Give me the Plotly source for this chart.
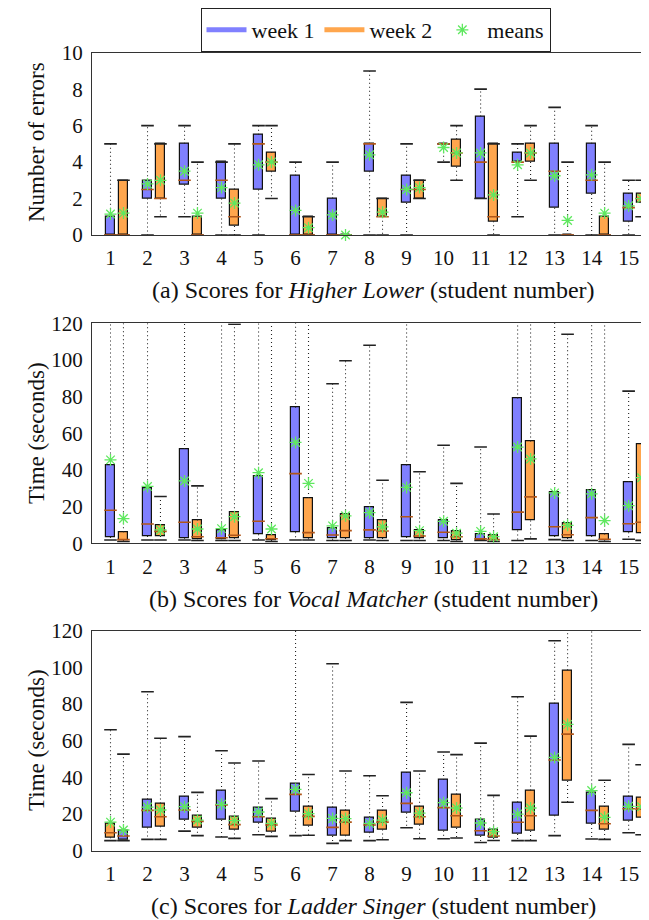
import plotly.graph_objects as go

# ---------------- DATA ----------------
students = list(range(1, 16))
tick_labels = [str(s) for s in students]

# Panel (a) Higher Lower: number of errors   (min, q1, median, q3, max, mean)
a1_min = [0, 0, 1, 0, 0, 0, 0, 0, 0, 4, 2, 1, 0, 0, 0]
a1_q1 = [0, 2, 2.75, 2, 2.5, 0, 0, 3.5, 1.75, 5, 2, 4, 1.5, 2.25, 0.75]
a1_med = [0, 2.5, 3, 3, 5, 0, 0, 5, 2.5, 5, 4, 4, 3.5, 3, 1.5]
a1_q3 = [1, 3, 5, 4, 5.5, 3.25, 2, 5, 3.25, 5, 6.5, 4.5, 5, 5, 2.25]
a1_max = [5, 6, 6, 4, 6, 4, 4, 9, 5, 5, 8, 5, 7, 6, 3]
a1_mean = [1.15, 2.8, 3.5, 2.6, 3.85, 1.35, 1.1, 4.4, 2.5, 4.8, 4.5, 3.85, 3.25, 3.3, 1.6]

a2_min = [0, 1, 0, 0, 2, 0, 0, 0, 2, 3, 0, 3, 0, 0, 1]
a2_q1 = [0, 2, 0, 0.5, 3.5, 0, 0, 1, 2, 3.75, 0.75, 4, 0, 0, 1.75]
a2_med = [0, 2, 0, 1, 4, 0, 0, 1, 2.5, 4.5, 1, 4.5, 0, 0, 2]
a2_q3 = [3, 5, 1, 2.5, 4.5, 1, 0, 2, 3, 5.25, 5, 5, 0, 1, 2.25]
a2_max = [3, 5, 4, 5, 6, 1, 0, 2, 3, 6, 5, 6, 4, 4, 3]
a2_mean = [1.2, 3.0, 1.2, 1.75, 4.0, 0.4, 0, 1.25, 2.6, 4.5, 2.2, 4.5, 0.8, 1.2, 2.0]

# Panel (b) Vocal Matcher: time (seconds)
b1_min = [1.8, 1.8, 1.8, 1.5, 1.8, 1.8, 1.5, 1.8, 1.5, 1.5, 1.5, 1.5, 2, 1.5, 2.2]
b1_q1 = [3.5, 4, 3, 2, 5, 6, 2.5, 3, 3.5, 2.5, 1.8, 7, 4, 4, 6]
b1_med = [18, 10.5, 11.5, 3, 12, 38, 4.5, 7.3, 14.5, 6, 2.4, 17, 9, 14, 10.7]
b1_q3 = [42.5, 30, 51.5, 7, 36.5, 74, 8, 19.5, 42.5, 12.5, 5, 79, 28, 29, 33.5]
b1_max = [150, 150, 150, 150, 150, 150, 87, 108, 150, 53.5, 52.5, 150, 150, 150, 83]
b1_mean = [45.5, 31, 34, 8, 38.5, 55, 9.5, 16.7, 30.5, 12, 6.5, 52.5, 27.5, 27, 20.5]

b2_min = [1, 1.8, 1.5, 1.5, 1, 1.8, 1.5, 1.5, 1.5, 1, 1, 2.4, 1.5, 1, 1.6]
b2_q1 = [1.8, 4, 2, 3, 1.8, 2.7, 2.9, 2.9, 2.7, 1.5, 1.8, 12.5, 2.9, 1.6, 5.6]
b2_med = [2, 6.5, 3.6, 4.4, 2.5, 5.8, 6.9, 6.7, 4, 3.6, 2, 25.3, 4.7, 2.2, 11.5]
b2_q3 = [6, 10, 12.4, 17, 4.5, 24.7, 15.8, 12.4, 7, 6.7, 4.4, 55.5, 11, 4.8, 54]
b2_max = [150, 25.5, 31.3, 119.5, 150, 150, 99.6, 34.4, 39, 32.7, 16, 150, 114, 150, 150]
b2_mean = [13.5, 7.3, 7.8, 14.5, 7.8, 32.7, 15, 9, 6.9, 5.5, 3.6, 46, 9.8, 12.4, 35.8]

# Panel (c) Ladder Singer: time (seconds)
c1_min = [5.5, 6.2, 10.7, 7.5, 8.7, 8.2, 4, 5.5, 12.5, 6.5, 4.5, 5.5, 8.2, 6.4, 9.8]
c1_q1 = [7.3, 12.7, 16.7, 16.7, 15.3, 21.3, 8, 10, 20.7, 10.9, 8, 9.1, 19.3, 14.6, 16.4]
c1_med = [9.8, 22, 22.2, 25, 18.5, 30.7, 12.7, 14, 25.8, 23.5, 10.9, 15.5, 49.5, 22, 22.9]
c1_q3 = [15, 28, 29.3, 32.5, 23.6, 36.4, 23.5, 18.2, 42.4, 38.5, 17.1, 26.4, 80.2, 31.7, 29.6]
c1_max = [66, 86.7, 62.2, 54.5, 48.9, 150, 102, 40.9, 80.9, 53.8, 58.7, 84, 114.5, 150, 58]
c1_mean = [15.6, 23.8, 24, 25.3, 21.1, 33.5, 17.6, 14.9, 31.6, 26.2, 15.1, 20, 50.9, 32.8, 24.2]

c2_min = [5.5, 6.2, 8.2, 6.7, 7.8, 8.4, 5.5, 6, 6.5, 6.9, 5.6, 5.5, 26.4, 6.2, 8.7]
c2_q1 = [5.8, 13.3, 12.5, 11.6, 10.4, 13.6, 8.4, 11.6, 14.2, 12.4, 6.9, 10.7, 38, 11.3, 18.2]
c2_med = [8, 18.5, 16, 14.2, 14, 18.7, 15.6, 15.6, 18.5, 19.1, 8, 19.1, 63.6, 14.7, 22.7]
c2_q3 = [11.1, 25.8, 19.1, 18.5, 17.6, 24.2, 22, 21.6, 24, 30.7, 11.5, 32.9, 98.4, 23.8, 28.9]
c2_max = [52.7, 61.3, 31.8, 47.8, 28.4, 41.6, 43.5, 30, 43.5, 52.4, 30.2, 62.5, 150, 38.4, 46.9]
c2_mean = [11.3, 22.2, 16.7, 16.4, 14.9, 20.2, 17.5, 16.7, 20.5, 23.3, 10.4, 23.3, 68.9, 18.2, 24]

# ---------------- STYLE ----------------
FONT = "Liberation Serif"
BLUE = "#8080ff"
ORANGE = "#ffa64d"
MEDIAN = "#b0561a"
MEANC = "#5fe85f"
OFFSET = 0.35       # week 2 box offset from the student position
BOXW = 0.25
C_SWAPPED = [1]     # in panel (c) student 1's boxes appear with swapped colours

fig = go.Figure()


def add_boxes(xa, ya, pos, mn, q1, med, q3, mx, mean, colors):
    fig.add_trace(go.Bar(
        x=pos, y=[b - a for a, b in zip(q1, q3)], base=q1, width=BOXW,
        marker=dict(color=colors, line=dict(color="#111", width=1.2)),
        xaxis=xa, yaxis=ya, showlegend=False, hoverinfo="skip"))
    wx, wy = [], []
    for p, a, lo, b, hi in zip(pos, q1, mn, q3, mx):
        wx += [p, p, None, p, p, None]
        wy += [b, hi, None, a, lo, None]
    fig.add_trace(go.Scatter(
        x=wx, y=wy, mode="lines", line=dict(color="#222", width=1.1, dash="1px,3px"),
        xaxis=xa, yaxis=ya, showlegend=False, hoverinfo="skip"))
    fig.add_trace(go.Scatter(
        x=pos + pos, y=list(mn) + list(mx), mode="markers",
        marker=dict(symbol="line-ew", size=9, color="#222", line=dict(color="#222", width=1.6)),
        xaxis=xa, yaxis=ya, showlegend=False, hoverinfo="skip"))
    fig.add_trace(go.Scatter(
        x=pos, y=med, mode="markers",
        marker=dict(symbol="line-ew", size=9, color=MEDIAN, line=dict(color=MEDIAN, width=1.6)),
        xaxis=xa, yaxis=ya, showlegend=False, hoverinfo="skip"))
    fig.add_trace(go.Scatter(
        x=pos, y=mean, mode="markers", cliponaxis=False,
        marker=dict(symbol="asterisk-open", size=10, color=MEANC,
                    line=dict(color=MEANC, width=1.3)),
        xaxis=xa, yaxis=ya, showlegend=False, hoverinfo="skip"))


pos1 = students
pos2 = [s + OFFSET for s in students]

panels = [
    ("x", "y", (a1_min, a1_q1, a1_med, a1_q3, a1_max, a1_mean),
     (a2_min, a2_q1, a2_med, a2_q3, a2_max, a2_mean), []),
    ("x2", "y2", (b1_min, b1_q1, b1_med, b1_q3, b1_max, b1_mean),
     (b2_min, b2_q1, b2_med, b2_q3, b2_max, b2_mean), []),
    ("x3", "y3", (c1_min, c1_q1, c1_med, c1_q3, c1_max, c1_mean),
     (c2_min, c2_q1, c2_med, c2_q3, c2_max, c2_mean), C_SWAPPED),
]
for xa, ya, w1, w2, swapped in panels:
    col1 = [ORANGE if s in swapped else BLUE for s in students]
    col2 = [BLUE if s in swapped else ORANGE for s in students]
    add_boxes(xa, ya, pos1, *w1, col1)
    add_boxes(xa, ya, pos2, *w2, col2)

# legend entries
fig.add_trace(go.Scatter(x=[None], y=[None], mode="lines", name="week 1",
                         line=dict(color=BLUE, width=5)))
fig.add_trace(go.Scatter(x=[None], y=[None], mode="lines", name="week 2",
                         line=dict(color=ORANGE, width=5)))
fig.add_trace(go.Scatter(x=[None], y=[None], mode="markers", name="means",
                         marker=dict(symbol="asterisk-open", size=10, color=MEANC,
                                     line=dict(color=MEANC, width=1.3))))

# page body margin shifts the figure by 8px; work in reference-pixel coordinates
SH = 8
W, H = 649 - SH, 920 - SH
ML, MR, MT, MB = 92 - SH, 0, 52 - SH, 920 - 851
PH = H - MT - MB
PW = W - ML - MR


def py(pix):
    return 1 - (pix - SH - MT) / PH


def px(pix):
    return (pix - SH - ML) / PW


domains = [(py(235), py(52.7)), (py(543.3), py(323.3)), (py(850.7), py(630.7))]
yranges = [[0, 10], [0, 120], [0, 120]]
ydtick = [2, 20, 20]

axis_common = dict(showgrid=False, zeroline=False, showline=True, linecolor="#333",
                   linewidth=1.2, ticks="",
                   tickfont=dict(family=FONT, size=21, color="#111"))
layout = dict(
    width=W, height=H, plot_bgcolor="white", paper_bgcolor="white",
    margin=dict(l=ML, r=MR, t=MT, b=MB, autoexpand=False),
    barmode="overlay", bargap=0,
    font=dict(family=FONT, size=21, color="#111"),
    legend=dict(orientation="h", xref="container", yref="container",
                x=(375.5 - SH) / W, xanchor="center", y=1, yanchor="top",
                bordercolor="#222", borderwidth=1, itemwidth=40,
                font=dict(family=FONT, size=22, color="#111")),
)
for i in range(3):
    sx = "" if i == 0 else str(i + 1)
    layout["xaxis" + sx] = dict(axis_common, domain=[0, 1], range=[0.5, 15.55],
                                tickmode="array", tickvals=students, ticktext=tick_labels,
                                mirror=True, anchor="y" + sx, ticklabelstandoff=4)
    layout["yaxis" + sx] = dict(axis_common, domain=list(domains[i]), range=yranges[i],
                                dtick=ydtick[i], tick0=0, mirror=False, anchor="x" + sx,
                                ticklabelstandoff=4)
fig.update_layout(**layout)

captions = [
    ("(a) Scores for <i>Higher Lower</i> (student number)", 290),
    ("(b) Scores for <i>Vocal Matcher</i> (student number)", 599),
    ("(c) Scores for <i>Ladder Singer</i> (student number)", 906),
]
for text, ypix in captions:
    fig.add_annotation(text=text, xref="paper", yref="paper", x=px(374), y=py(ypix),
                       xanchor="center", yanchor="middle", showarrow=False,
                       font=dict(family=FONT, size=24, color="#111"))

ytitles = [("Number of errors", 142), ("Time (seconds)", 433), ("Time (seconds)", 740)]
for text, ypix in ytitles:
    fig.add_annotation(text=text, xref="paper", yref="paper", x=px(36), y=py(ypix),
                       xanchor="center", yanchor="middle", showarrow=False, textangle=-90,
                       font=dict(family=FONT, size=23, color="#111"))

fig.write_html("out.html")
